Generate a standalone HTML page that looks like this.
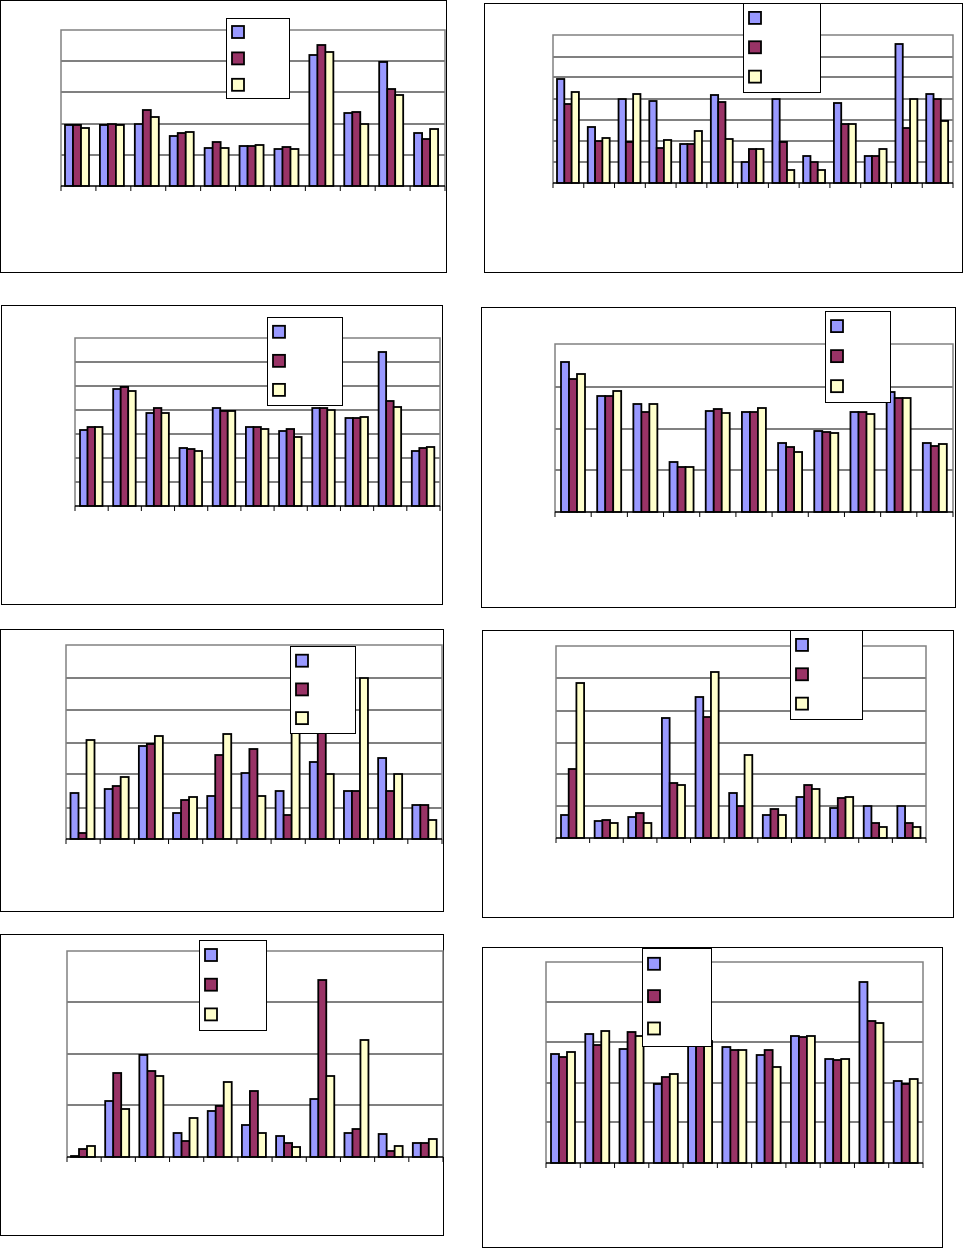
<!DOCTYPE html>
<html><head><meta charset="utf-8"><style>html,body{margin:0;padding:0;background:#fff}svg{display:block}</style></head>
<body>
<svg id="s" width="963" height="1248" xmlns="http://www.w3.org/2000/svg"></svg>
<script>
var P=[
{o:[0,0,446,272],x0:61,x1:445,t:30,b:186,g:[61,92,124,155],lg:[226,18,289,98],bw:8,off:4,
 d:[[125,125,128],[125,124,125],[124,110,117],[136,133,132],[148,142,148],[146,146,145],[149,147,149],[55,45,52],[113,112,124],[62,89,95],[133,139,129]]},
{o:[484,3,962,272],x0:553,x1:953,t:35,b:183,g:[57,77,99,120,141,162],lg:[743,3,820,92],bw:7.3,off:4,
 d:[[79,104,92],[127,141,138],[99,142,94],[101,148,140],[144,144,131],[95,102,139],[162,149,149],[99,142,170],[156,162,170],[103,124,124],[156,156,149],[44,128,99],[94,99,121]]},
{o:[1,305,442,604],x0:75,x1:440,t:338,b:506,g:[362,386,410,434,458,482],lg:[267,317,342,405],bw:7.5,off:5,
 d:[[430,427,427],[389,387,391],[413,408,413],[448,449,451],[408,411,411],[427,427,429],[431,429,437],[408,408,410],[418,418,417],[352,401,407],[451,448,447]]},
{o:[481,307,955,607],x0:555,x1:953,t:344,b:512,g:[387,429,470],lg:[825,311,890,402],bw:8,off:6,
 d:[[362,379,374],[396,396,391],[404,412,404],[462,467,467],[411,409,413],[412,412,408],[443,447,452],[431,432,433],[412,412,414],[392,398,398],[443,446,444]]},
{o:[0,629,443,911],x0:66,x1:442,t:645,b:839,g:[678,710,743,774,808],lg:[290,646,355,733],bw:8,off:4.5,
 d:[[793,833,740],[789,786,777],[746,744,736],[813,800,797],[796,755,734],[773,749,796],[791,815,690],[762,700,774],[791,791,678],[758,791,774],[805,805,820]]},
{o:[482,630,953,917],x0:556,x1:926,t:646,b:838,g:[678,711,743,774,806],lg:[790,630,862,719],bw:7.7,off:5,
 d:[[815,769,683],[821,820,823],[817,813,823],[718,783,785],[697,717,672],[793,806,755],[815,809,815],[797,785,789],[808,798,797],[806,823,827],[806,823,827]]},
{o:[0,934,443,1235],x0:67,x1:443,t:951,b:1157,g:[1002,1054,1105],lg:[199,940,266,1030],bw:8,off:4,
 d:[[1156,1149,1146],[1101,1073,1109],[1055,1071,1076],[1133,1141,1118],[1111,1106,1082],[1125,1091,1133],[1136,1143,1147],[1099,980,1076],[1133,1129,1040],[1134,1151,1146],[1143,1143,1139]]},
{o:[482,947,942,1247],x0:546,x1:923,t:962,b:1163,g:[1002,1042,1083,1122],lg:[642,948,711,1046],bw:8,off:5,
 d:[[1054,1057,1052],[1034,1045,1031],[1049,1032,1036],[1084,1077,1074],[1041,1041,1041],[1047,1050,1050],[1055,1050,1067],[1036,1037,1036],[1059,1060,1059],[982,1021,1023],[1081,1084,1079]]}
];
var C=["#9999ff","#993366","#ffffcc"],h="";
P.forEach(function(p){
 var o=p.o;
 h+='<rect x="'+(o[0]+0.5)+'" y="'+(o[1]+0.5)+'" width="'+(o[2]-o[0])+'" height="'+(o[3]-o[1])+'" fill="#fff" stroke="#000" stroke-width="1"/>';
 p.g.forEach(function(y){h+='<line x1="'+p.x0+'" y1="'+y+'" x2="'+p.x1+'" y2="'+y+'" stroke="#000" stroke-width="1"/>';});
 h+='<polyline points="'+p.x0+','+p.b+' '+p.x0+','+p.t+' '+p.x1+','+p.t+' '+p.x1+','+p.b+'" fill="none" stroke="#808080" stroke-width="1.5"/>';
 var n=p.d.length,gw=(p.x1-p.x0)/n;
 p.d.forEach(function(g,i){
  for(var k=0;k<3;k++){
   var x=p.x0+i*gw+p.off+k*p.bw;
   h+='<rect x="'+x+'" y="'+g[k]+'" width="'+p.bw+'" height="'+(p.b-g[k])+'" fill="'+C[k]+'" stroke="#000" stroke-width="1.8"/>';
  }
 });
 h+='<line x1="'+p.x0+'" y1="'+p.b+'" x2="'+p.x1+'" y2="'+p.b+'" stroke="#000" stroke-width="1.5"/>';
 for(var i=0;i<=n;i++){var x=p.x0+i*gw;h+='<line x1="'+x+'" y1="'+p.b+'" x2="'+x+'" y2="'+(p.b+5)+'" stroke="#000" stroke-width="1"/>';}
 var l=p.lg,lh=l[3]-l[1];
 h+='<rect x="'+(l[0]+0.5)+'" y="'+(l[1]+0.5)+'" width="'+(l[2]-l[0])+'" height="'+lh+'" fill="#fff" stroke="#000" stroke-width="1"/>';
 for(var k=0;k<3;k++){
  var y=l[1]+lh*0.1+k*lh*0.33;
  h+='<rect x="'+(l[0]+6)+'" y="'+y+'" width="12" height="12" fill="'+C[k]+'" stroke="#000" stroke-width="1.8"/>';
 }
});
document.getElementById("s").innerHTML=h;
</script>
</body></html>
